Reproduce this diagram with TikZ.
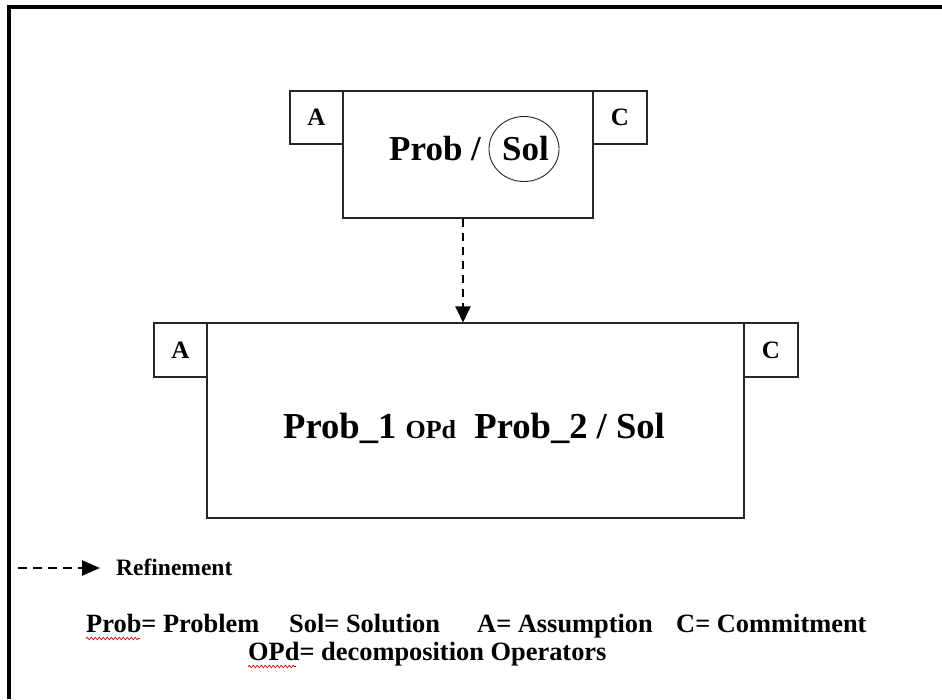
\documentclass[tikz,border=0pt]{standalone}
\usepackage{fontspec}
\setmainfont{Liberation Serif}
\usetikzlibrary{arrows.meta,shapes.geometric,decorations.pathmorphing}
\begin{document}
\begin{tikzpicture}[x=1pt,y=-1pt,
  box/.style={draw=black!85,line width=1.1pt,inner sep=0pt,rectangle},
  tag/.style={box,font=\fontsize{25}{25}\selectfont\bfseries},
  big/.style={inner sep=0pt,font=\fontsize{35}{40}\selectfont\bfseries},
  bigger/.style={inner sep=0pt,font=\fontsize{36.6}{40}\selectfont\bfseries},
  legend/.style={inner sep=0pt,font=\fontsize{26.4}{28}\selectfont\bfseries},
  refarrow/.style={line width=2.4pt,dash pattern=on 8pt off 6pt,-{Triangle[length=16pt,width=15pt]}},
  squig/.style={red!85!black,line width=0.7pt,decorate,decoration={snake,amplitude=1.2pt,segment length=4pt}},
  frame/.style={line width=4pt,black}]
\useasboundingbox (0,0) rectangle (942,699);
% frame
\draw[frame] (7,7) -- (942,7);
\draw[frame] (9,5) -- (9,699);
% top group
\node[box,minimum width=250pt,minimum height=127pt] (topbox) at (468,154.5) {};
\node[tag,minimum width=53pt,minimum height=53pt] (topA) at (316.5,117.5) {A};
\node[tag,minimum width=54pt,minimum height=53pt] (topC) at (620,117.5) {C};
\node[big,anchor=base west] (tprob) at (389,160) {Prob /};
\node[big,anchor=base west] (tsoltext) at (502,160) {Sol};
\node[draw=black!85,line width=0.9pt,ellipse,minimum width=70pt,minimum height=65pt,inner sep=0pt] (tsol) at (524,149) {};
% bottom group
\node[box,minimum width=537pt,minimum height=195pt] (botbox) at (475.5,420.5) {};
\node[tag,minimum width=53pt,minimum height=54pt] (botA) at (180.5,350) {A};
\node[tag,minimum width=54pt,minimum height=54pt] (botC) at (771,350) {C};
\node[bigger,anchor=base west] (btext) at (283,438) {Prob\_1 {\fontsize{26}{26}\selectfont OPd}\ \ Prob\_2 / Sol};
% refinement arrow
\coordinate (ax) at (463,0);
\draw[refarrow] (topbox.south -| ax) -- (botbox.north -| ax);
% legend
\coordinate (l1) at (18,568);
\coordinate (l2) at (100,568);
\draw[line width=2.6pt,dash pattern=on 9pt off 6pt,-{Triangle[length=18pt,width=15pt]}] (l1) -- (l2);
\node[inner sep=0pt,anchor=base west,font=\fontsize{23.5}{25}\selectfont\bfseries] (ref) at (116,575) {Refinement};
\node[legend,anchor=base west] (k1) at (86,632) {Prob= Problem};
\node[legend,anchor=base west] (k2) at (289,632) {Sol= Solution};
\node[legend,anchor=base west] (k3) at (477,632) {A= Assumption};
\node[legend,anchor=base west] (k4) at (676,632) {C= Commitment};
\node[legend,anchor=base west] (k5) at (248,660) {OPd= decomposition Operators};
\coordinate (s1a) at (86,638.5);
\coordinate (s1b) at (140,638.5);
\coordinate (s2a) at (248,666.5);
\coordinate (s2b) at (296,666.5);
\draw[squig] (s1a) -- (s1b);
\draw[squig] (s2a) -- (s2b);
\end{tikzpicture}
\end{document}
